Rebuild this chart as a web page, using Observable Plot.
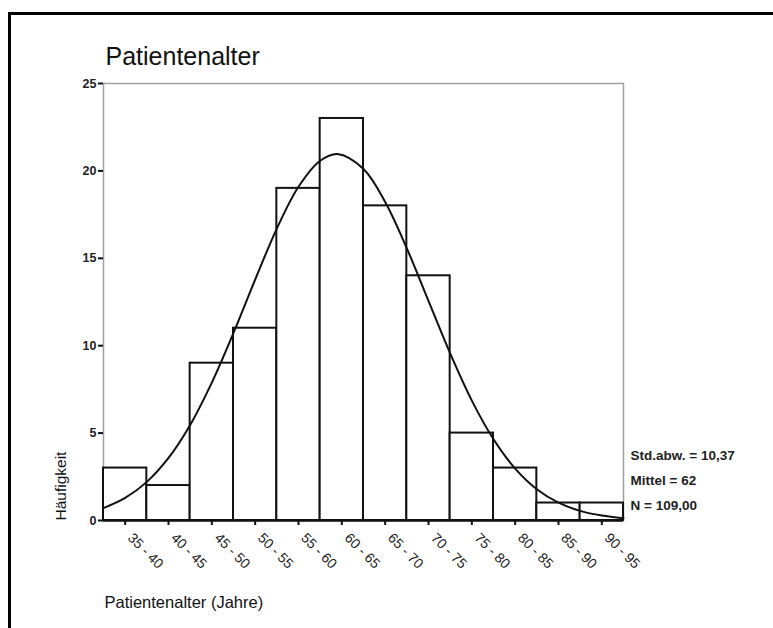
<!DOCTYPE html>
<html>
<head>
<meta charset="utf-8">
<script src="https://cdn.jsdelivr.net/npm/d3@7"></script>
<script src="https://cdn.jsdelivr.net/npm/@observablehq/plot@0.6"></script>
<style>
  html, body { margin: 0; padding: 0; background: #fff; }
  #wrap { position: relative; width: 773px; height: 628px; overflow: hidden; }
  #frame { position: absolute; left: 8px; top: 12px; width: 800px; height: 700px;
           border-top: 3px solid #000; border-left: 3px solid #000; box-sizing: border-box; }
  #chart { position: absolute; left: 0; top: 0; }
</style>
</head>
<body>
<div id="wrap"><div id="frame"></div><div id="chart"></div></div>
<script>
// Histogram bins (age in years) and counts
const binStart = [35, 40, 45, 50, 55, 60, 65, 70, 75, 80, 85, 90];
const binEnd   = [40, 45, 50, 55, 60, 65, 70, 75, 80, 85, 90, 95];
const counts   = [3, 2, 9, 11, 19, 23, 18, 14, 5, 3, 1, 1];
const binLabels = ["35 - 40","40 - 45","45 - 50","50 - 55","55 - 60","60 - 65",
                   "65 - 70","70 - 75","75 - 80","80 - 85","85 - 90","90 - 95"];
// Fitted normal curve
const curveAge = [35, 37.5, 40, 42.5, 45, 47.5, 50, 52.5, 55, 57.5, 60, 62, 65, 67.5, 70, 72.5, 75, 77.5, 80, 82.5, 85, 87.5, 90, 92.5, 95];
const curveVal = [0.71, 1.29, 2.21, 3.58, 5.47, 7.89, 10.73, 13.78, 16.70, 19.09, 20.58, 20.97, 20.11, 18.22, 15.57, 12.56, 9.56, 6.86, 4.65, 2.97, 1.79, 1.02, 0.55, 0.28, 0.13];
const yTicks = [0, 5, 10, 15, 20, 25];
const statsLines = ["Std.abw. = 10,37", "Mittel = 62", "N = 109,00"];
const titleText = "Patientenalter";
const xLabel = "Patientenalter (Jahre)";
const yLabel = "Häufigkeit";

const bars = binStart.map((s, i) => ({x1: s, x2: binEnd[i], y: counts[i], mid: (s + binEnd[i]) / 2, label: binLabels[i]}));
const curve = curveAge.map((a, i) => ({x: a, y: curveVal[i]}));
const statOffsets = [-61, -36, -11];

const chart = Plot.plot({
  width: 773,
  height: 628,
  marginLeft: 103,
  marginRight: 150,
  marginTop: 83,
  marginBottom: 108,
  style: {fontFamily: "Arial, 'Liberation Sans', sans-serif", background: "transparent", overflow: "visible"},
  x: {domain: [35, 95], axis: null},
  y: {domain: [0, 25], axis: null},
  marks: [
    Plot.frame({stroke: "#a0a0a0", strokeWidth: 1.5}),
    Plot.rectY(bars, {x1: "x1", x2: "x2", y: "y", fill: "white", stroke: "#111", strokeWidth: 2}),
    Plot.line(curve, {x: "x", y: "y", curve: "catmull-rom", stroke: "#111", strokeWidth: 2}),
    Plot.ruleY([0], {stroke: "#111", strokeWidth: 2.5}),
    Plot.axisY(yTicks, {ticks: yTicks, tickSize: 5, tickFormat: () => "",
      stroke: "#111", strokeWidth: 2, label: null}),
    Plot.text(yTicks, {y: d => d, text: d => String(d), frameAnchor: "left", dx: -7, textAnchor: "end",
      fontSize: 12.5, fontWeight: "bold", fill: "#222"}),
    Plot.axisX(bars.map(d => d.mid), {ticks: bars.map(d => d.mid), tickSize: 5, tickFormat: () => "",
      stroke: "#111", strokeWidth: 2, label: null}),
    Plot.text(bars, {x: "mid", text: "label", frameAnchor: "bottom", dy: 15, dx: 5, rotate: 45,
      textAnchor: "start", lineAnchor: "middle", fontSize: 14, fill: "#222"}),
    Plot.text([titleText], {frameAnchor: "top-left", dx: 2, dy: -36, fontSize: 25, textAnchor: "start", fill: "#111"}),
    Plot.text([xLabel], {frameAnchor: "bottom-left", dx: 1, dy: 87, fontSize: 16.5, textAnchor: "start", fill: "#111"}),
    Plot.text([yLabel], {frameAnchor: "bottom-left", dx: -38, dy: 0, rotate: -90, fontSize: 15.5, textAnchor: "start", fill: "#111"}),
    ...statsLines.map((s, i) => Plot.text([s], {frameAnchor: "bottom-right", dx: 7, dy: statOffsets[i],
      textAnchor: "start", fontSize: 13.5, fontWeight: "bold", fill: "#222"}))
  ]
});
document.getElementById("chart").appendChild(chart);
</script>
</body>
</html>
